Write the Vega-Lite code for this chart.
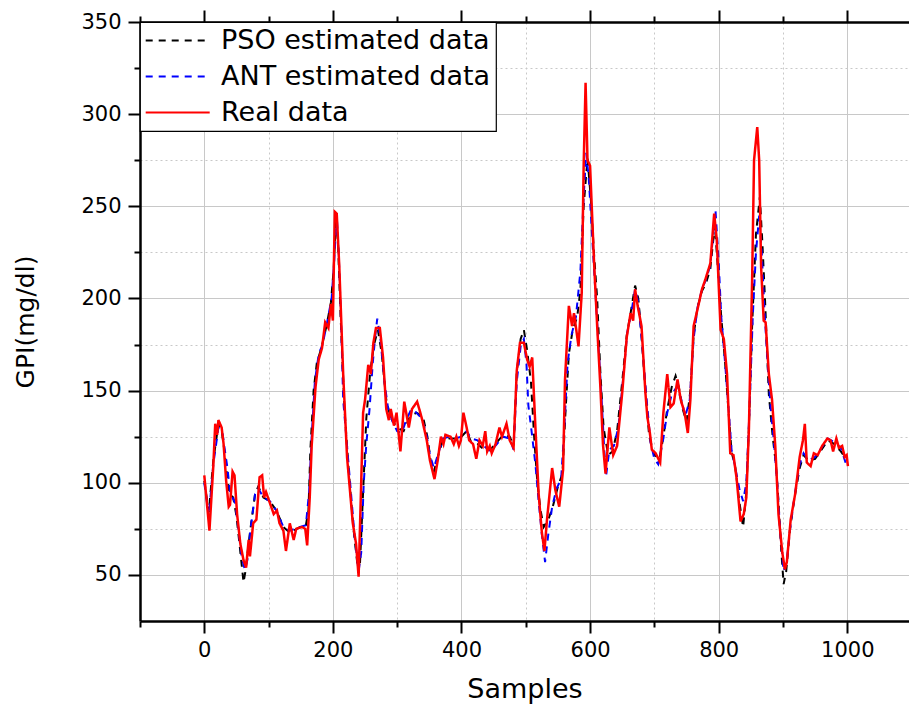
{
  "$schema": "https://vega.github.io/schema/vega-lite/v6.json",
  "autosize": {"type": "none"},
  "padding": {"left": 140, "top": 22, "right": 0, "bottom": 88},
  "width": 769,
  "height": 599,
  "background": "white",
  "config": {
    "view": {"stroke": null},
    "axis": {
      "domainColor": "black", "domainWidth": 2.5, "tickColor": "black", "tickWidth": 2,
      "labelFont": "DejaVu Sans", "labelFontSize": 21, "labelColor": "black",
      "titleFont": "DejaVu Sans", "titleFontWeight": "normal", "titleColor": "black",
      "gridColor": "#c8c8c8", "gridWidth": 1
    },
    "legend": {
      "orient": "top-left", "offset": 0, "padding": 5, "strokeColor": "black", "strokeWidth": 1.2,
      "fillColor": "white", "cornerRadius": 0, "labelFont": "DejaVu Sans", "labelFontSize": 27,
      "labelColor": "black", "labelOffset": 49, "rowPadding": 8, "symbolType": "M-1.6,0H6.4",
      "symbolSize": 256, "symbolStrokeWidth": 2, "labelLimit": 400
    }
  },
  "datasets": {
    "real": [
      {"s":0,"v":104},{"s":8,"v":74},{"s":14,"v":109},{"s":17,"v":132},{"s":20,"v":126},{"s":22,"v":134},{"s":27,"v":130},{"s":30,"v":121},{"s":34,"v":101},{"s":38,"v":87},{"s":40,"v":88},{"s":44,"v":106},{"s":47,"v":104},{"s":51,"v":83},{"s":56,"v":67},{"s":61,"v":58},{"s":65,"v":54},{"s":69,"v":69},{"s":71,"v":60},{"s":76,"v":78},{"s":81,"v":80},{"s":86,"v":103},{"s":90,"v":104},{"s":93,"v":92},{"s":96,"v":95},{"s":100,"v":91},{"s":108,"v":83},{"s":113,"v":85},{"s":117,"v":78},{"s":123,"v":74},{"s":127,"v":63},{"s":133,"v":78},{"s":139,"v":69},{"s":143,"v":75},{"s":152,"v":76},{"s":157,"v":75},{"s":160,"v":66},{"s":164,"v":92},{"s":167,"v":120},{"s":173,"v":152},{"s":178,"v":167},{"s":183,"v":173},{"s":188,"v":187},{"s":193,"v":184},{"s":197,"v":197},{"s":200,"v":188},{"s":203,"v":247},{"s":206,"v":246},{"s":210,"v":217},{"s":216,"v":159},{"s":222,"v":114},{"s":231,"v":78},{"s":236,"v":67},{"s":240,"v":49},{"s":247,"v":138},{"s":250,"v":145},{"s":255,"v":164},{"s":259,"v":159},{"s":263,"v":176},{"s":267,"v":184},{"s":273,"v":184},{"s":278,"v":168},{"s":283,"v":140},{"s":287,"v":134},{"s":290,"v":140},{"s":295,"v":131},{"s":299,"v":138},{"s":305,"v":117},{"s":311,"v":144},{"s":318,"v":130},{"s":323,"v":140},{"s":331,"v":144},{"s":336,"v":138},{"s":339,"v":134},{"s":346,"v":123},{"s":351,"v":112},{"s":358,"v":102},{"s":363,"v":112},{"s":368,"v":125},{"s":372,"v":121},{"s":375,"v":126},{"s":383,"v":125},{"s":388,"v":121},{"s":392,"v":125},{"s":396,"v":120},{"s":399,"v":123},{"s":403,"v":138},{"s":408,"v":130},{"s":412,"v":123},{"s":418,"v":121},{"s":423,"v":113},{"s":428,"v":123},{"s":433,"v":120},{"s":437,"v":128},{"s":440,"v":117},{"s":444,"v":120},{"s":447,"v":116},{"s":453,"v":121},{"s":459,"v":130},{"s":463,"v":125},{"s":470,"v":132},{"s":475,"v":123},{"s":481,"v":119},{"s":486,"v":161},{"s":491,"v":176},{"s":497,"v":176},{"s":502,"v":167},{"s":506,"v":163},{"s":510,"v":168},{"s":515,"v":130},{"s":520,"v":94},{"s":525,"v":73},{"s":529,"v":63},{"s":533,"v":80},{"s":541,"v":108},{"s":546,"v":96},{"s":552,"v":87},{"s":558,"v":107},{"s":561,"v":156},{"s":567,"v":196},{"s":572,"v":185},{"s":575,"v":192},{"s":582,"v":174},{"s":587,"v":203},{"s":590,"v":272},{"s":593,"v":317},{"s":596,"v":275},{"s":600,"v":272},{"s":606,"v":221},{"s":611,"v":185},{"s":616,"v":152},{"s":620,"v":121},{"s":624,"v":105},{"s":630,"v":130},{"s":636,"v":115},{"s":642,"v":120},{"s":650,"v":149},{"s":657,"v":179},{"s":663,"v":192},{"s":667,"v":188},{"s":670,"v":205},{"s":674,"v":196},{"s":680,"v":185},{"s":686,"v":149},{"s":689,"v":136},{"s":693,"v":127},{"s":696,"v":118},{"s":702,"v":116},{"s":709,"v":111},{"s":714,"v":138},{"s":720,"v":159},{"s":725,"v":141},{"s":730,"v":143},{"s":736,"v":156},{"s":741,"v":145},{"s":747,"v":138},{"s":752,"v":127},{"s":756,"v":145},{"s":761,"v":185},{"s":767,"v":194},{"s":774,"v":205},{"s":779,"v":210},{"s":787,"v":219},{"s":793,"v":246},{"s":797,"v":232},{"s":803,"v":183},{"s":808,"v":178},{"s":813,"v":159},{"s":818,"v":116},{"s":823,"v":115},{"s":828,"v":102},{"s":834,"v":79},{"s":839,"v":83},{"s":843,"v":92},{"s":847,"v":129},{"s":852,"v":210},{"s":855,"v":275},{"s":860,"v":293},{"s":863,"v":275},{"s":866,"v":217},{"s":870,"v":188},{"s":873,"v":187},{"s":878,"v":159},{"s":883,"v":145},{"s":888,"v":120},{"s":893,"v":83},{"s":899,"v":62},{"s":903,"v":53},{"s":906,"v":57},{"s":912,"v":80},{"s":919,"v":94},{"s":926,"v":114},{"s":931,"v":123},{"s":934,"v":132},{"s":937,"v":111},{"s":943,"v":109},{"s":948,"v":116},{"s":954,"v":115},{"s":961,"v":120},{"s":969,"v":124},{"s":974,"v":123},{"s":978,"v":117},{"s":983,"v":124},{"s":987,"v":119},{"s":992,"v":120},{"s":996,"v":114},{"s":999,"v":115},{"s":1001,"v":109}
    ],
    "pso": [
      {"s":0,"v":101},{"s":7,"v":84},{"s":14,"v":112},{"s":22,"v":132},{"s":27,"v":128},{"s":30,"v":121},{"s":35,"v":105},{"s":39,"v":94},{"s":45,"v":92},{"s":50,"v":82},{"s":55,"v":66},{"s":61,"v":46},{"s":64,"v":52},{"s":71,"v":73},{"s":79,"v":94},{"s":84,"v":98},{"s":92,"v":92},{"s":102,"v":90},{"s":112,"v":85},{"s":123,"v":76},{"s":133,"v":73},{"s":149,"v":76},{"s":158,"v":77},{"s":162,"v":85},{"s":165,"v":118},{"s":170,"v":150},{"s":175,"v":165},{"s":182,"v":173},{"s":190,"v":185},{"s":197,"v":198},{"s":201,"v":215},{"s":205,"v":244},{"s":208,"v":230},{"s":212,"v":190},{"s":218,"v":140},{"s":225,"v":105},{"s":232,"v":75},{"s":238,"v":56},{"s":242,"v":55},{"s":247,"v":95},{"s":252,"v":135},{"s":258,"v":160},{"s":264,"v":175},{"s":270,"v":183},{"s":276,"v":170},{"s":283,"v":145},{"s":290,"v":135},{"s":300,"v":130},{"s":310,"v":128},{"s":320,"v":136},{"s":330,"v":138},{"s":340,"v":136},{"s":347,"v":125},{"s":352,"v":112},{"s":357,"v":106},{"s":363,"v":114},{"s":370,"v":122},{"s":380,"v":124},{"s":390,"v":124},{"s":400,"v":125},{"s":408,"v":128},{"s":415,"v":122},{"s":425,"v":121},{"s":435,"v":118},{"s":445,"v":118},{"s":455,"v":122},{"s":465,"v":126},{"s":475,"v":125},{"s":481,"v":120},{"s":486,"v":160},{"s":492,"v":178},{"s":497,"v":183},{"s":502,"v":172},{"s":508,"v":155},{"s":513,"v":125},{"s":518,"v":100},{"s":523,"v":85},{"s":528,"v":76},{"s":535,"v":80},{"s":542,"v":87},{"s":550,"v":98},{"s":557,"v":105},{"s":562,"v":140},{"s":567,"v":170},{"s":573,"v":183},{"s":580,"v":190},{"s":585,"v":205},{"s":590,"v":250},{"s":596,"v":276},{"s":601,"v":255},{"s":606,"v":225},{"s":611,"v":200},{"s":616,"v":160},{"s":621,"v":130},{"s":628,"v":115},{"s":635,"v":117},{"s":642,"v":128},{"s":650,"v":155},{"s":657,"v":180},{"s":663,"v":192},{"s":670,"v":207},{"s":675,"v":200},{"s":680,"v":180},{"s":686,"v":150},{"s":692,"v":125},{"s":700,"v":115},{"s":708,"v":113},{"s":714,"v":125},{"s":720,"v":140},{"s":727,"v":152},{"s":733,"v":158},{"s":738,"v":152},{"s":744,"v":140},{"s":750,"v":133},{"s":756,"v":150},{"s":761,"v":180},{"s":767,"v":195},{"s":774,"v":204},{"s":780,"v":208},{"s":787,"v":216},{"s":794,"v":240},{"s":799,"v":215},{"s":804,"v":190},{"s":810,"v":165},{"s":815,"v":140},{"s":820,"v":117},{"s":826,"v":108},{"s":832,"v":90},{"s":838,"v":76},{"s":843,"v":95},{"s":847,"v":130},{"s":852,"v":185},{"s":858,"v":235},{"s":864,"v":255},{"s":868,"v":230},{"s":872,"v":200},{"s":878,"v":148},{"s":884,"v":125},{"s":889,"v":110},{"s":893,"v":90},{"s":897,"v":65},{"s":901,"v":45},{"s":905,"v":52},{"s":911,"v":75},{"s":918,"v":92},{"s":926,"v":108},{"s":932,"v":115},{"s":940,"v":112},{"s":950,"v":113},{"s":960,"v":118},{"s":970,"v":123},{"s":980,"v":121},{"s":990,"v":117},{"s":1000,"v":112}
    ],
    "ant": [
      {"s":0,"v":100},{"s":7,"v":82},{"s":14,"v":110},{"s":22,"v":130},{"s":28,"v":128},{"s":31,"v":120},{"s":36,"v":108},{"s":40,"v":95},{"s":48,"v":89},{"s":53,"v":75},{"s":58,"v":60},{"s":63,"v":53},{"s":67,"v":58},{"s":72,"v":75},{"s":79,"v":94},{"s":84,"v":97},{"s":92,"v":92},{"s":102,"v":90},{"s":112,"v":85},{"s":123,"v":76},{"s":133,"v":74},{"s":149,"v":76},{"s":158,"v":77},{"s":163,"v":95},{"s":167,"v":125},{"s":172,"v":155},{"s":178,"v":170},{"s":184,"v":175},{"s":191,"v":187},{"s":198,"v":200},{"s":202,"v":220},{"s":206,"v":245},{"s":209,"v":225},{"s":213,"v":185},{"s":216,"v":145},{"s":222,"v":120},{"s":228,"v":95},{"s":234,"v":70},{"s":240,"v":52},{"s":244,"v":62},{"s":248,"v":100},{"s":252,"v":121},{"s":257,"v":140},{"s":262,"v":165},{"s":266,"v":180},{"s":269,"v":189},{"s":274,"v":178},{"s":280,"v":155},{"s":286,"v":140},{"s":293,"v":133},{"s":300,"v":128},{"s":307,"v":127},{"s":314,"v":134},{"s":322,"v":140},{"s":330,"v":138},{"s":338,"v":135},{"s":345,"v":127},{"s":351,"v":115},{"s":357,"v":108},{"s":364,"v":116},{"s":371,"v":124},{"s":380,"v":125},{"s":390,"v":124},{"s":400,"v":125},{"s":408,"v":128},{"s":415,"v":124},{"s":425,"v":123},{"s":435,"v":120},{"s":445,"v":117},{"s":455,"v":121},{"s":465,"v":125},{"s":475,"v":124},{"s":481,"v":118},{"s":486,"v":155},{"s":492,"v":174},{"s":497,"v":178},{"s":501,"v":165},{"s":504,"v":142},{"s":509,"v":128},{"s":515,"v":110},{"s":520,"v":90},{"s":525,"v":72},{"s":530,"v":57},{"s":535,"v":72},{"s":541,"v":87},{"s":548,"v":97},{"s":555,"v":102},{"s":560,"v":130},{"s":565,"v":165},{"s":571,"v":180},{"s":578,"v":190},{"s":585,"v":215},{"s":590,"v":255},{"s":594,"v":279},{"s":598,"v":265},{"s":603,"v":235},{"s":608,"v":205},{"s":613,"v":175},{"s":618,"v":145},{"s":622,"v":118},{"s":625,"v":104},{"s":630,"v":118},{"s":637,"v":120},{"s":644,"v":130},{"s":651,"v":155},{"s":658,"v":182},{"s":664,"v":192},{"s":670,"v":205},{"s":675,"v":198},{"s":681,"v":175},{"s":688,"v":145},{"s":694,"v":122},{"s":700,"v":113},{"s":706,"v":110},{"s":713,"v":122},{"s":720,"v":138},{"s":727,"v":148},{"s":735,"v":152},{"s":742,"v":145},{"s":748,"v":136},{"s":755,"v":145},{"s":761,"v":178},{"s":767,"v":195},{"s":774,"v":205},{"s":780,"v":210},{"s":787,"v":218},{"s":795,"v":248},{"s":800,"v":220},{"s":804,"v":190},{"s":810,"v":165},{"s":815,"v":142},{"s":820,"v":118},{"s":826,"v":108},{"s":832,"v":97},{"s":838,"v":90},{"s":843,"v":100},{"s":848,"v":140},{"s":853,"v":190},{"s":858,"v":225},{"s":863,"v":245},{"s":867,"v":225},{"s":871,"v":195},{"s":876,"v":165},{"s":881,"v":140},{"s":886,"v":122},{"s":891,"v":100},{"s":896,"v":72},{"s":901,"v":52},{"s":906,"v":58},{"s":912,"v":78},{"s":919,"v":95},{"s":926,"v":110},{"s":932,"v":116},{"s":940,"v":112},{"s":950,"v":114},{"s":960,"v":119},{"s":970,"v":124},{"s":980,"v":122},{"s":990,"v":119},{"s":1000,"v":108}
    ]
  },
  "resolve": {"axis": {"x": "independent", "y": "independent"}},
  "layer": [
    {
      "data": {"name": "real"},
      "mark": {"type": "line", "strokeOpacity": 0},
      "encoding": {
        "x": {"field": "s", "type": "quantitative", "scale": {"domain": [-100, 1096], "nice": false, "zero": false},
              "axis": {"orient": "bottom", "values": [-100, 100, 300, 500, 700, 900], "labels": false, "tickSize": 6, "grid": true, "gridDash": [2, 3], "domain": false, "title": null}},
        "y": {"field": "v", "type": "quantitative", "scale": {"domain": [25, 350], "nice": false, "zero": false},
              "axis": {"orient": "left", "values": [75, 125, 175, 225, 275, 325], "labels": false, "tickSize": 6, "grid": true, "gridDash": [2, 3], "domain": false, "title": null}}
      }
    },
    {
      "data": {"name": "real"},
      "mark": {"type": "line", "strokeOpacity": 0},
      "encoding": {
        "x": {"field": "s", "type": "quantitative",
              "axis": {"orient": "top", "values": [0, 200, 400, 600, 800, 1000], "labels": false, "tickSize": 12, "grid": false, "domain": true, "title": null}},
        "y": {"field": "v", "type": "quantitative", "axis": null}
      }
    },
    {
      "data": {"name": "real"},
      "mark": {"type": "line", "strokeOpacity": 0},
      "encoding": {
        "x": {"field": "s", "type": "quantitative",
              "axis": {"orient": "top", "values": [-100, 100, 300, 500, 700, 900], "labels": false, "tickSize": 6, "grid": false, "domain": false, "title": null}},
        "y": {"field": "v", "type": "quantitative", "axis": null}
      }
    },
    {
      "data": {"name": "pso"},
      "mark": {"type": "line", "strokeWidth": 2},
      "encoding": {
        "x": {"field": "s", "type": "quantitative",
              "axis": {"orient": "bottom", "values": [0, 200, 400, 600, 800, 1000], "format": "d", "tickSize": 12, "labelPadding": 6, "grid": true, "title": "Samples", "titleFontSize": 27, "titlePadding": 16}},
        "y": {"field": "v", "type": "quantitative",
              "axis": {"orient": "left", "values": [50, 100, 150, 200, 250, 300, 350], "tickSize": 12, "labelPadding": 7, "grid": true, "title": "GPI(mg/dl)", "titleFontSize": 25, "titlePadding": 42}},
        "color": {"datum": "PSO estimated data", "type": "nominal",
                  "scale": {"domain": ["PSO estimated data", "ANT estimated data", "Real data"], "range": ["black", "blue", "red"]},
                  "legend": {"title": null}},
        "strokeDash": {"datum": "PSO estimated data", "type": "nominal",
                  "scale": {"domain": ["PSO estimated data", "ANT estimated data", "Real data"], "range": [[7, 6], [7, 6], [1, 0]]},
                  "legend": {"title": null}}
      }
    },
    {
      "data": {"name": "ant"},
      "mark": {"type": "line", "strokeWidth": 2},
      "encoding": {
        "x": {"field": "s", "type": "quantitative", "axis": null},
        "y": {"field": "v", "type": "quantitative", "axis": null},
        "color": {"datum": "ANT estimated data", "type": "nominal"},
        "strokeDash": {"datum": "ANT estimated data", "type": "nominal"}
      }
    },
    {
      "data": {"name": "real"},
      "mark": {"type": "line", "strokeWidth": 2.5},
      "encoding": {
        "x": {"field": "s", "type": "quantitative", "axis": null},
        "y": {"field": "v", "type": "quantitative", "axis": null},
        "color": {"datum": "Real data", "type": "nominal"},
        "strokeDash": {"datum": "Real data", "type": "nominal"}
      }
    }
  ]
}
